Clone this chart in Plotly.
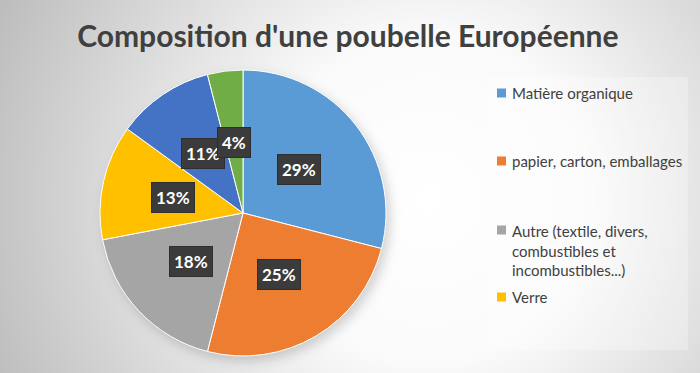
import math, base64
import plotly.graph_objects as go

# ---- data ----
labels = ["Matière organique", "papier, carton, emballages",
          "Autre (textile, divers, combustibles et incombustibles...)",
          "Verre", "Plastiques", "Métaux"]
values = [29, 25, 18, 13, 11, 4]
colors = ["#5B9BD5", "#ED7D31", "#A5A5A5", "#FFC000", "#4472C4", "#70AD47"]
legend_texts = ["Matière organique", "papier, carton, emballages",
                "Autre (textile, divers,<br>combustibles et<br>incombustibles...)",
                "Verre"]
title = "Composition d'une poubelle Européenne"

W, H = 700, 373
cx, cy, R = 243, 213, 143   # pie centre / radius in px

# background gradient as SVG
svg = f'''<svg xmlns="http://www.w3.org/2000/svg" width="{W}" height="{H}" viewBox="0 0 {W} {H}">
<defs>
<radialGradient id="g" cx="{430}" cy="{200}" r="{470}" gradientUnits="userSpaceOnUse">
<stop offset="0" stop-color="#ffffff"/>
<stop offset="0.35" stop-color="#fafafa"/>
<stop offset="1" stop-color="#bdbdbd"/>
</radialGradient>
<filter id="b" x="-20%" y="-20%" width="140%" height="140%"><feGaussianBlur stdDeviation="6"/></filter>
</defs>
<rect width="{W}" height="{H}" fill="url(#g)"/>
<rect x="488" y="77" width="200" height="273" fill="#ffffff" fill-opacity="0.28"/>
<circle cx="{cx+4}" cy="{cy+5}" r="{R}" fill="#000" fill-opacity="0.18" filter="url(#b)"/>
</svg>'''
src = "data:image/svg+xml;base64," + base64.b64encode(svg.encode()).decode()

fig = go.Figure()
fig.add_trace(go.Pie(
    labels=labels, values=values, sort=False, direction="clockwise", rotation=0,
    marker=dict(colors=colors, line=dict(color="white", width=1)),
    textinfo="none", hoverinfo="label+percent", showlegend=False,
    domain=dict(x=[(cx - R) / W, (cx + R) / W], y=[(H - cy - R) / H, (H - cy + R) / H]),
))

annotations = []
# data labels in dark boxes
total = sum(values)
cum = 0
rl = 0.5 * R
for v in values:
    mid = (cum + v / 2) / total * 2 * math.pi
    cum += v
    px = cx + rl * math.sin(mid)
    py = cy - rl * math.cos(mid)
    txt = f"{round(v / total * 100)}%"
    annotations.append(dict(xref="paper", yref="paper", showarrow=False,
                            xanchor="center", yanchor="middle", borderpad=4,
                            x=px / W, y=(H - py) / H,
                            text=f"<b>{txt}</b>", bgcolor="#3b3b3b",
                            bordercolor="#2e2e2e", borderwidth=1,
                            font=dict(family="Lato", size=17, color="white")))

# legend (first four entries visible)
leg_y = [93, 161, 230, 297]
for t, c, y in zip(legend_texts, colors, leg_y):
    annotations.append(dict(xref="paper", yref="paper", x=510 / W, y=(H - y) / H,
                            xanchor="left", yanchor="top" if "<br>" in t else "middle",
                            showarrow=False, align="left", text=t,
                            font=dict(family="Lato", size=15, color="#404040"),
                            yshift=10 if "<br>" in t else 0))
fig_shapes = []
for c, y in zip(colors, leg_y):
    fig_shapes.append(dict(type="rect", xref="paper", yref="paper",
                           x0=497 / W, x1=506 / W, y0=(H - y - 4.5) / H, y1=(H - y + 4.5) / H,
                           fillcolor=c, line=dict(width=0)))

fig.update_layout(
    width=W, height=H, margin=dict(l=0, r=0, t=0, b=0),
    paper_bgcolor="#d4d4d4",
    title=dict(text=f"<b>{title}</b>", x=0.497, xanchor="center", y=1 - 36 / H, yanchor="middle",
               font=dict(family="Lato", size=30, color="#404040")),
    images=[dict(source=src, xref="paper", yref="paper", x=0, y=1, sizex=1, sizey=1,
                 xanchor="left", yanchor="top", sizing="stretch", layer="below")],
    annotations=annotations, shapes=fig_shapes,
)
fig.write_html("out.html", config={"displayModeBar": False},
               post_script="document.body.style.margin='0';document.body.style.padding='0';")
